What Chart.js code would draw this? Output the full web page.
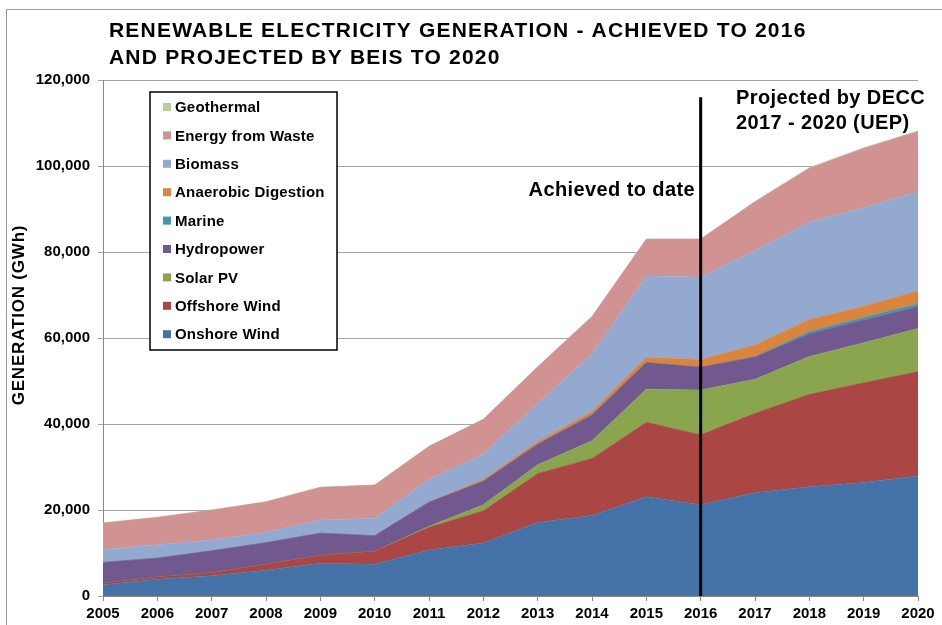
<!DOCTYPE html>
<html>
<head>
<meta charset="utf-8">
<script src="https://cdn.jsdelivr.net/npm/chart.js@4/dist/chart.umd.min.js"></script>
<style>
  html, body { margin: 0; padding: 0; background: #fff; }
  #wrap { width: 942px; height: 625px; position: relative; }
</style>
</head>
<body>
<div id="wrap"><canvas id="renewChart"></canvas></div>
<script>
// years on the x axis
const years = ["2005", "2006", "2007", "2008", "2009", "2010", "2011", "2012",
  "2013", "2014", "2015", "2016", "2017", "2018", "2019", "2020"];

// generation by technology, GWh
const onshoreWind = [2600, 3900, 4700, 6000, 7600, 7400, 10700, 12300, 17100, 18700, 23100, 21200, 24000, 25400, 26400, 27900];
const offshoreWind = [400, 500, 700, 1400, 1900, 3000, 5300, 7500, 11400, 13300, 17300, 16300, 18500, 21500, 23200, 24300];
const solarPV = [0, 0, 0, 0, 0, 0, 200, 1400, 2000, 4100, 7700, 10400, 7900, 8800, 9300, 10000];
const hydropower = [4800, 4400, 5100, 5000, 5100, 3600, 5600, 5500, 4800, 6000, 6200, 5300, 5200, 5300, 5300, 5100];
const marine = [0, 0, 0, 0, 0, 0, 0, 0, 0, 0, 0, 0, 100, 500, 600, 700];
const anaerobicDigestion = [0, 0, 0, 0, 0, 0, 100, 400, 600, 800, 1200, 1800, 2700, 2800, 2600, 3000];
const biomass = [3000, 3100, 2500, 2400, 3100, 4100, 5200, 5900, 8900, 13400, 18900, 19200, 21900, 22700, 22900, 23000];
const energyFromWaste = [6200, 6400, 7000, 7100, 7600, 7700, 7700, 8100, 8500, 8700, 8600, 8800, 11400, 12500, 13800, 14000];
const geothermal = [0, 0, 0, 0, 0, 0, 0, 0, 0, 0, 0, 0, 50, 100, 150, 200];

const yTicks = [0, 20000, 40000, 60000, 80000, 100000, 120000];

const series = [
  { label: "Onshore Wind", data: onshoreWind, color: "#4572A7" },
  { label: "Offshore Wind", data: offshoreWind, color: "#AA4643" },
  { label: "Solar PV", data: solarPV, color: "#89A54E" },
  { label: "Hydropower", data: hydropower, color: "#71588F" },
  { label: "Marine", data: marine, color: "#4198AF" },
  { label: "Anaerobic Digestion", data: anaerobicDigestion, color: "#DB843D" },
  { label: "Biomass", data: biomass, color: "#93A9CF" },
  { label: "Energy from Waste", data: energyFromWaste, color: "#D19392" },
  { label: "Geothermal", data: geothermal, color: "#B9CD96" },
];

const FONT = "'Liberation Sans', Arial, sans-serif";

// titles, annotations, the 2016 divider and the legend box
const extras = {
  id: "extras",
  afterDatasetsDraw(chart) {
    const ctx = chart.ctx;
    const x = chart.scales.x.getPixelForValue(years.indexOf("2016"));
    const yTop = chart.scales.y.getPixelForValue(116000);
    ctx.save();
    ctx.strokeStyle = "#000";
    ctx.lineWidth = 3;
    ctx.beginPath();
    ctx.moveTo(x, yTop);
    ctx.lineTo(x, chart.chartArea.bottom);
    ctx.stroke();
    ctx.restore();
  },
  afterDraw(chart) {
    const ctx = chart.ctx;
    ctx.save();

    // outer frame
    ctx.strokeStyle = "#9a9a9a";
    ctx.lineWidth = 1;
    ctx.beginPath();
    ctx.moveTo(6.5, 625);
    ctx.lineTo(6.5, 9.5);
    ctx.lineTo(942, 9.5);
    ctx.stroke();

    ctx.fillStyle = "#000";
    ctx.textBaseline = "middle";

    // chart title
    ctx.font = "bold 21px " + FONT;
    ctx.letterSpacing = "1.2px";
    ctx.textAlign = "left";
    ctx.fillText("RENEWABLE ELECTRICITY GENERATION - ACHIEVED TO 2016", 109, 31);
    ctx.fillText("AND PROJECTED BY BEIS TO 2020", 109, 58);

    // annotations
    ctx.font = "bold 20px " + FONT;
    ctx.letterSpacing = "0.4px";
    ctx.textAlign = "right";
    ctx.fillText("Achieved to date", 695, 190);
    ctx.textAlign = "left";
    ctx.fillText("Projected by DECC", 736, 98);
    ctx.fillText("2017 - 2020 (UEP)", 736, 123);

    // y axis title
    ctx.save();
    ctx.translate(19, 315);
    ctx.rotate(-Math.PI / 2);
    ctx.textAlign = "center";
    ctx.font = "bold 17px " + FONT;
    ctx.letterSpacing = "0.8px";
    ctx.fillText("GENERATION (GWh)", 0, 0);
    ctx.restore();

    // legend
    ctx.letterSpacing = "0.2px";
    const box = { left: 150, top: 92, width: 187, height: 258 };
    ctx.fillStyle = "#fff";
    ctx.fillRect(box.left, box.top, box.width, box.height);
    ctx.strokeStyle = "#000";
    ctx.lineWidth = 1.5;
    ctx.strokeRect(box.left, box.top, box.width, box.height);

    ctx.font = "bold 15px " + FONT;
    ctx.textAlign = "left";
    const items = chart.data.datasets.slice().reverse();
    items.forEach((ds, i) => {
      const cy = 107 + i * 28.4;
      ctx.fillStyle = ds.backgroundColor;
      ctx.fillRect(163, cy - 4, 8, 8);
      ctx.fillStyle = "#000";
      ctx.fillText(ds.label, 175, cy + 1);
    });

    ctx.restore();
  },
};

const datasets = series.map((s, i) => ({
  label: s.label,
  data: s.data,
  backgroundColor: s.color,
  borderColor: s.color,
  borderWidth: 0.5,
  pointRadius: 0,
  pointHoverRadius: 0,
  tension: 0,
  fill: i === 0 ? "origin" : "-1",
}));

const config = {
  type: "line",
  data: { labels: years, datasets: datasets },
  options: {
    responsive: true,
    maintainAspectRatio: false,
    animation: false,
    layout: { padding: { top: 80, right: 24, left: 0, bottom: 0 } },
    plugins: {
      legend: { display: false },
      tooltip: { enabled: false },
      title: { display: false },
    },
    scales: {
      x: {
        offset: false,
        grid: {
          drawOnChartArea: false,
          drawTicks: true,
          tickLength: 5,
          color: "#888",
        },
        border: { color: "#888" },
        ticks: {
          color: "#000",
          font: { family: FONT, size: 15, weight: "bold" },
          padding: 4,
          maxRotation: 0,
          autoSkip: false,
        },
        afterFit(scale) { scale.height = 29; },
      },
      y: {
        stacked: true,
        min: 0,
        max: 120000,
        grid: { color: "#a6a6a6", tickLength: 5 },
        border: { color: "#888" },
        afterBuildTicks(scale) { scale.ticks = yTicks.map((v) => ({ value: v })); },
        ticks: {
          color: "#000",
          font: { family: FONT, size: 15, weight: "bold" },
          padding: 8,
          callback: (v) => v.toLocaleString("en-GB"),
        },
        afterFit(scale) { scale.width = 103; },
      },
    },
  },
  plugins: [extras],
};

new Chart(document.getElementById("renewChart"), config);
</script>
</body>
</html>
